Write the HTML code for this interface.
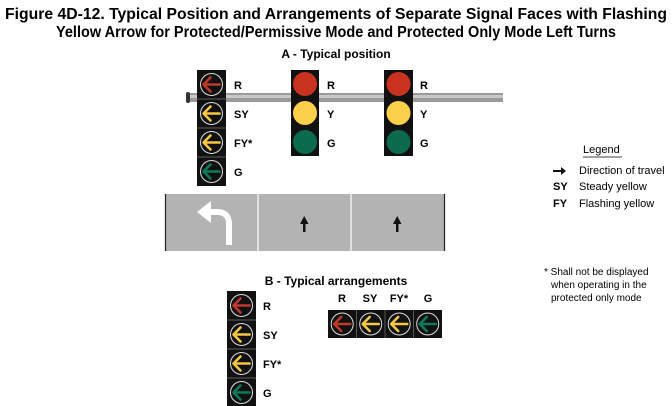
<!DOCTYPE html>
<html><head><meta charset="utf-8"><style>
body{margin:0;background:#fff}
svg{display:block;font-family:"Liberation Sans",Arial,sans-serif}
</style></head><body>
<svg width="672" height="406" viewBox="0 0 672 406" xmlns="http://www.w3.org/2000/svg">
<defs>
<g id="arr"><circle cx="0" cy="0" r="11" fill="none" stroke="#ddd" stroke-width="1"/><path d="M8,0H-7M-1,-7L-8,0L-1,7" fill="none" stroke-width="2.6" stroke-linecap="round" stroke-linejoin="round"/></g>
</defs>
<text x="336" y="19" text-anchor="middle" font-size="15.5" font-weight="bold" textLength="662" lengthAdjust="spacingAndGlyphs">Figure 4D-12. Typical Position and Arrangements of Separate Signal Faces with Flashing</text>
<text x="336" y="37" text-anchor="middle" font-size="15.5" font-weight="bold" textLength="560" lengthAdjust="spacingAndGlyphs">Yellow Arrow for Protected/Permissive Mode and Protected Only Mode Left Turns</text>
<text x="336" y="58" text-anchor="middle" font-size="12" font-weight="bold">A - Typical position</text>
<!-- pole -->
<rect x="188" y="93" width="315" height="9" fill="#9a9a9a"/>
<rect x="188" y="95" width="315" height="3" fill="#c8c8c8"/>
<rect x="186" y="92" width="4" height="11" rx="2" fill="#333"/>
<!-- left signal A -->
<rect x="197" y="70" width="29" height="116" fill="#111"/>
<g stroke="#777" stroke-width="0.7"><line x1="197" y1="99" x2="226" y2="99"/><line x1="197" y1="128" x2="226" y2="128"/><line x1="197" y1="157" x2="226" y2="157"/></g>
<use href="#arr" x="211.5" y="84.5" stroke="#c0392b"/>
<use href="#arr" x="211.5" y="113.5" stroke="#f5c842"/>
<use href="#arr" x="211.5" y="142.5" stroke="#f5c842"/>
<use href="#arr" x="211.5" y="171.5" stroke="#0d7a5a"/>
<g font-size="11" font-weight="bold">
<text x="234" y="89">R</text><text x="234" y="118">SY</text><text x="234" y="147">FY*</text><text x="234" y="176">G</text>
</g>
<!-- mid signals -->
<g>
<rect x="291" y="70" width="28" height="86" fill="#111"/>
<circle cx="305" cy="84" r="12" fill="#c8321f"/><circle cx="305" cy="113" r="12" fill="#fcd04a"/><circle cx="305" cy="142" r="12" fill="#0c6b4f"/>
<rect x="384" y="70" width="29" height="86" fill="#111"/>
<circle cx="398.5" cy="84" r="12" fill="#c8321f"/><circle cx="398.5" cy="113" r="12" fill="#fcd04a"/><circle cx="398.5" cy="142" r="12" fill="#0c6b4f"/>
</g>
<g font-size="11" font-weight="bold">
<text x="327" y="89">R</text><text x="327" y="118">Y</text><text x="327" y="147">G</text>
<text x="420" y="89">R</text><text x="420" y="118">Y</text><text x="420" y="147">G</text>
</g>
<!-- road -->
<rect x="165" y="194" width="280" height="57" fill="#b3b3b3"/>
<line x1="165.5" y1="194" x2="165.5" y2="251" stroke="#222" stroke-width="1.2"/>
<line x1="444.5" y1="194" x2="444.5" y2="251" stroke="#222" stroke-width="1.2"/>
<line x1="258" y1="194" x2="258" y2="251" stroke="#fff" stroke-width="1.2"/>
<line x1="351" y1="194" x2="351" y2="251" stroke="#fff" stroke-width="1.2"/>
<path d="M229,245V224Q229,212 217,212H206" fill="none" stroke="#fff" stroke-width="6"/>
<path d="M197,212L211,201L211,223Z" fill="#fff"/>
<g fill="#111"><rect x="303" y="222" width="2.5" height="10"/><path d="M300,224L304.2,216L308.5,224Z"/>
<rect x="396" y="222" width="2.5" height="10"/><path d="M393,224L397.2,216L401.5,224Z"/></g>
<!-- legend -->
<text x="583" y="153" font-size="11">Legend</text>
<line x1="583" y1="157" x2="622" y2="157" stroke="#000" stroke-width="0.8"/>
<path d="M553,170H561V167L566,171L561,175V172H553Z" fill="#111"/>
<g font-size="11"><text x="579" y="174">Direction of travel</text><text x="579" y="190">Steady yellow</text><text x="579" y="207">Flashing yellow</text></g>
<g font-size="11" font-weight="bold"><text x="553" y="190">SY</text><text x="553" y="207">FY</text></g>
<g font-size="10"><text x="544" y="275">* Shall not be displayed</text><text x="551" y="288">when operating in the</text><text x="551" y="301">protected only mode</text></g>
<!-- B -->
<text x="336" y="285" text-anchor="middle" font-size="12" font-weight="bold">B - Typical arrangements</text>
<rect x="227" y="291" width="29" height="116" fill="#111"/>
<g stroke="#777" stroke-width="0.7"><line x1="227" y1="320" x2="256" y2="320"/><line x1="227" y1="349" x2="256" y2="349"/><line x1="227" y1="378" x2="256" y2="378"/></g>
<use href="#arr" x="241.5" y="305.5" stroke="#c0392b"/>
<use href="#arr" x="241.5" y="334.5" stroke="#f5c842"/>
<use href="#arr" x="241.5" y="363.5" stroke="#f5c842"/>
<use href="#arr" x="241.5" y="392.5" stroke="#0d7a5a"/>
<g font-size="11" font-weight="bold">
<text x="263" y="310">R</text><text x="263" y="339">SY</text><text x="263" y="368">FY*</text><text x="263" y="397">G</text>
</g>
<rect x="328" y="310" width="114" height="28" fill="#111"/>
<g stroke="#777" stroke-width="0.7"><line x1="356.5" y1="310" x2="356.5" y2="338"/><line x1="385" y1="310" x2="385" y2="338"/><line x1="413.5" y1="310" x2="413.5" y2="338"/></g>
<use href="#arr" x="342.2" y="324" stroke="#c0392b"/>
<use href="#arr" x="370.7" y="324" stroke="#f5c842"/>
<use href="#arr" x="399.2" y="324" stroke="#f5c842"/>
<use href="#arr" x="427.7" y="324" stroke="#0d7a5a"/>
<g font-size="11" font-weight="bold" text-anchor="middle">
<text x="342" y="302">R</text><text x="370" y="302">SY</text><text x="399" y="302">FY*</text><text x="428" y="302">G</text>
</g>
</svg>
</body></html>
